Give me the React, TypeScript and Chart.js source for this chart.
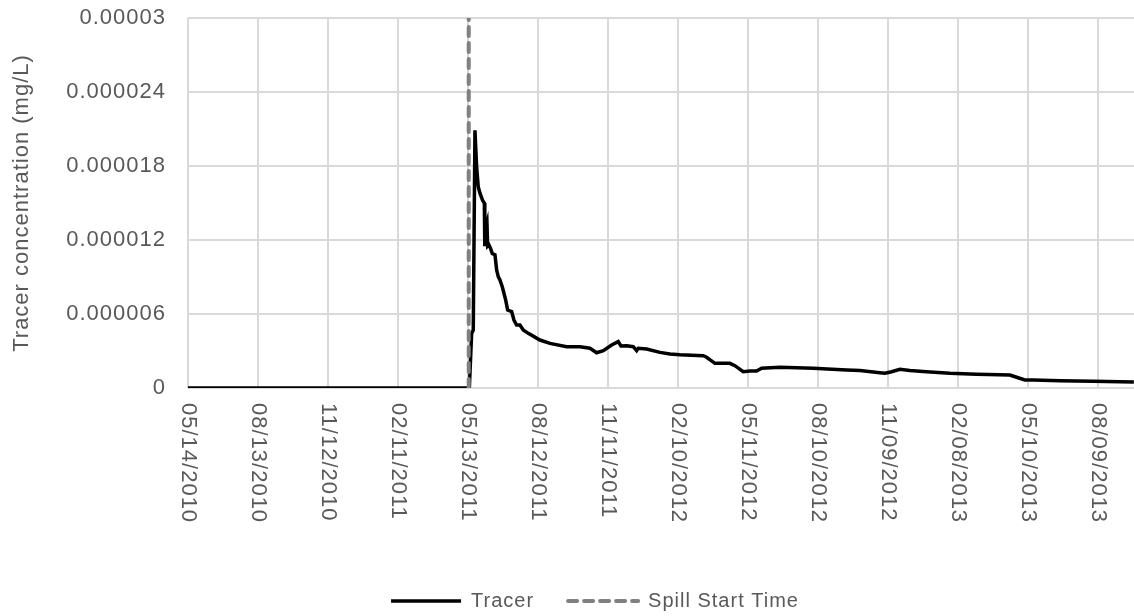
import React, { useEffect, useRef } from "react";
import { Chart, registerables } from "chart.js";

Chart.register(...registerables);

// ---- data ----
const xTickLabels = [
  "05/14/2010", "08/13/2010", "11/12/2010", "02/11/2011", "05/13/2011",
  "08/12/2011", "11/11/2011", "02/10/2012", "05/11/2012", "08/10/2012",
  "11/09/2012", "02/08/2013", "05/10/2013", "08/09/2013",
];
const xTickStepDays = 91; // days between tick labels (day 0 = 05/14/2010)
const xMaxDays = 1230;

const yTickLabels = ["0", "0.000006", "0.000012", "0.000018", "0.000024", "0.00003"];
const yMax = 0.00003;
const yStep = 0.000006;

// days since 05/14/2010
const tracerDays = [
  0, 365.8, 368.8, 370.9, 373.1, 375.3, 377.4, 379.6, 383.1, 385.3, 385.9, 387.4, 388.7,
  389.6, 391.3, 393.5, 395.6, 399.1, 401.3, 403.4, 405.6, 408.6, 410.8, 413.0, 415.6,
  420.8, 423.8, 427.3, 431.6, 435.9, 442.4, 457.6, 470.6, 492.3, 509.6, 522.6, 531.3,
  540.0, 550.8, 559.4, 562.9, 570.3, 578.9, 583.3, 585.4, 596.3, 613.6, 626.6, 639.6,
  669.9, 674.3, 685.1, 704.6, 711.1, 721.9, 730.6, 739.3, 745.8, 769.6, 812.9, 856.3,
  873.6, 899.6, 906.1, 914.8, 925.6, 938.6, 960.3, 990.6, 1025.3, 1068.6, 1077.3,
  1088.1, 1099.0, 1133.6, 1176.9, 1229.8,
];
const tracerValues = [
  0, 0, 4.43e-6, 4.7e-6, 2.09e-5, 1.79e-5, 1.63e-5, 1.58e-5, 1.52e-5, 1.5e-5, 1.15e-5, 1.31e-5, 1.34e-5,
  1.15e-5, 1.16e-5, 1.13e-5, 1.09e-5, 1.08e-5, 9.57e-6, 9.03e-6, 8.76e-6, 8.21e-6, 7.68e-6, 7.14e-6, 6.32e-6,
  6.19e-6, 5.51e-6, 5.11e-6, 5.11e-6, 4.7e-6, 4.43e-6, 3.89e-6, 3.62e-6, 3.35e-6, 3.35e-6, 3.22e-6, 2.86e-6,
  3.03e-6, 3.49e-6, 3.76e-6, 3.41e-6, 3.43e-6, 3.35e-6, 3.03e-6, 3.22e-6, 3.16e-6, 2.89e-6, 2.76e-6, 2.7e-6,
  2.62e-6, 2.49e-6, 2.0e-6, 2.0e-6, 1.81e-6, 1.32e-6, 1.38e-6, 1.38e-6, 1.6e-6, 1.68e-6, 1.6e-6, 1.46e-6,
  1.42e-6, 1.24e-6, 1.19e-6, 1.32e-6, 1.51e-6, 1.41e-6, 1.32e-6, 1.19e-6, 1.11e-6, 1.05e-6, 8.7e-7,
  6.5e-7, 6.5e-7, 5.9e-7, 5.4e-7, 4.9e-7,
];

const spillDays = [365, 365];
const spillValues = [0, 0.00003];

const seriesNames = ["Tracer", "Spill Start Time"];
const yAxisTitle = "Tracer concentration (mg/L)";

// ---- styles ----
const FONT_FAMILY = "'Liberation Sans', Arial, sans-serif";
const TEXT_COLOR = "#595959";
const GRID_COLOR = "#d9d9d9";

const spacingPlugin = {
  id: "letterSpacing",
  beforeUpdate(chart: any) {
    chart.ctx.letterSpacing = "1px";
  },
  beforeDraw(chart: any) {
    chart.ctx.letterSpacing = "1px";
  },
};

const xLabelPlugin = {
  id: "xRotatedLabels",
  afterDraw(chart: any) {
    const { ctx, chartArea } = chart;
    const xs = chart.scales.x;
    ctx.save();
    ctx.font = `22px ${FONT_FAMILY}`;
    ctx.fillStyle = TEXT_COLOR;
    ctx.letterSpacing = "1px";
    ctx.textAlign = "left";
    ctx.textBaseline = "middle";
    xTickLabels.forEach((lbl, i) => {
      const px = xs.getPixelForValue(i * xTickStepDays);
      ctx.save();
      ctx.translate(px, chartArea.bottom + 15);
      ctx.rotate(Math.PI / 2);
      ctx.fillText(lbl, 0, 0);
      ctx.restore();
    });
    ctx.restore();
  },
};

export default function App() {
  const canvasRef = useRef<HTMLCanvasElement | null>(null);

  useEffect(() => {
    if (!canvasRef.current) return;
    const chart = new Chart(canvasRef.current, {
      type: "line",
      data: {
        datasets: [
          {
            label: seriesNames[0],
            data: tracerDays.map((d, i) => ({ x: d, y: tracerValues[i] })),
            borderColor: "#000000",
            backgroundColor: "#000000",
            borderWidth: 3.5,
            pointRadius: 0,
            tension: 0,
            fill: false,
            order: 1,
          },
          {
            label: seriesNames[1],
            data: spillDays.map((d, i) => ({ x: d, y: spillValues[i] })),
            borderColor: "#808080",
            backgroundColor: "#808080",
            borderWidth: 4,
            borderDash: [9, 7],
            borderCapStyle: "round",
            pointRadius: 0,
            tension: 0,
            fill: false,
            order: 0,
          },
        ],
      },
      options: {
        responsive: false,
        animation: false,
        devicePixelRatio: 1,
        layout: { padding: { top: 18, left: 56, right: 0, bottom: 0 } },
        plugins: {
          tooltip: { enabled: false },
          legend: {
            position: "bottom",
            maxHeight: 59,
            labels: {
              usePointStyle: true,
              pointStyle: "line",
              pointStyleWidth: 70,
              padding: 34,
              color: TEXT_COLOR,
              font: { family: FONT_FAMILY, size: 20 },
              sort: (a: any, b: any) => a.datasetIndex - b.datasetIndex,
              generateLabels: (chart: any) => {
                const items = (Chart as any).defaults.plugins.legend.labels.generateLabels(chart);
                return items.map((it: any) => {
                  const ds = chart.data.datasets[it.datasetIndex];
                  return {
                    ...it,
                    lineDash: ds.borderDash || [],
                    lineWidth: ds.borderWidth,
                    strokeStyle: ds.borderColor,
                    fillStyle: ds.borderColor,
                    lineCap: ds.borderCapStyle || "butt",
                    pointStyle: "line",
                  };
                });
              },
            },
          },
        },
        scales: {
          x: {
            type: "linear",
            min: 0,
            max: xMaxDays,
            border: { display: false },
            grid: { color: GRID_COLOR, lineWidth: 2, drawTicks: false },
            ticks: { display: false, stepSize: xTickStepDays, includeBounds: false },
            afterFit: (scale: any) => {
              scale.height = 169;
              scale.paddingLeft = 0;
              scale.paddingRight = 0;
            },
          },
          y: {
            min: 0,
            max: yMax,
            border: { display: false },
            grid: { color: GRID_COLOR, lineWidth: 2, drawTicks: false },
            ticks: {
              stepSize: yStep,
              padding: 22,
              color: TEXT_COLOR,
              font: { family: FONT_FAMILY, size: 22 },
              callback: (_v: any, index: number) => yTickLabels[index],
            },
            title: {
              display: true,
              text: yAxisTitle,
              color: TEXT_COLOR,
              font: { family: FONT_FAMILY, size: 22 },
              padding: { top: -47, bottom: 0 },
            },
            afterFit: (scale: any) => {
              scale.width = 132;
              scale.paddingTop = 0;
              scale.paddingBottom = 0;
            },
          },
        },
      },
      plugins: [spacingPlugin, xLabelPlugin],
    } as any);
    return () => chart.destroy();
  }, []);

  return (
    <div style={{ position: "absolute", left: 0, top: 0, width: 1134, height: 616, background: "#fff" }}>
      <canvas ref={canvasRef} width={1134} height={616} />
    </div>
  );
}
